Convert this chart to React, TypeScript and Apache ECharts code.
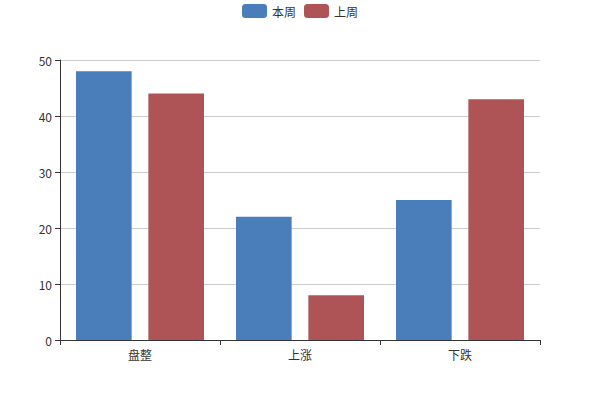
import React, { useEffect, useRef } from "react";
import * as echarts from "echarts";

const categories = ["盘整", "上涨", "下跌"];
const thisWeek = [48, 22, 25];
const lastWeek = [44, 8, 43];
const seriesNames = ["本周", "上周"];
const colors = ["#4a7ebb", "#ae5457"];

export default function App() {
  const ref = useRef<HTMLDivElement>(null);
  useEffect(() => {
    document.body.style.margin = "0";
    if (!ref.current) return;
    const chart = echarts.init(ref.current, undefined, { renderer: "svg" });
    const font = "'Microsoft YaHei', 'Noto Sans CJK SC', sans-serif";
    chart.setOption({
      animation: false,
      color: colors,
      textStyle: { fontFamily: font, color: "#333" },
      legend: {
        top: 4,
        padding: [0, 5],
        left: "center",
        data: seriesNames,
        itemWidth: 25,
        itemHeight: 14,
        textStyle: { fontFamily: font, color: "#333", fontSize: 12 },
      },
      grid: { left: 60, right: 60, top: 60, bottom: 60 },
      xAxis: {
        type: "category",
        data: categories,
        axisLine: { lineStyle: { color: "#333" } },
        axisTick: { show: true, lineStyle: { color: "#333" } },
        axisLabel: { color: "#333", fontFamily: font, fontSize: 12 },
      },
      yAxis: {
        type: "value",
        min: 0,
        max: 50,
        interval: 10,
        axisLine: { show: true, lineStyle: { color: "#333" } },
        axisTick: { show: true, lineStyle: { color: "#333" } },
        axisLabel: { color: "#333", fontFamily: font, fontSize: 12 },
        splitLine: { lineStyle: { color: "#ccc" } },
      },
      series: [
        {
          name: seriesNames[0],
          type: "bar",
          data: thisWeek,
          barGap: "30%",
          barCategoryGap: "20%",
        },
        {
          name: seriesNames[1],
          type: "bar",
          data: lastWeek,
          barGap: "30%",
          barCategoryGap: "20%",
        },
      ],
    });
    return () => chart.dispose();
  }, []);
  return <div ref={ref} style={{ width: 600, height: 400 }} />;
}
